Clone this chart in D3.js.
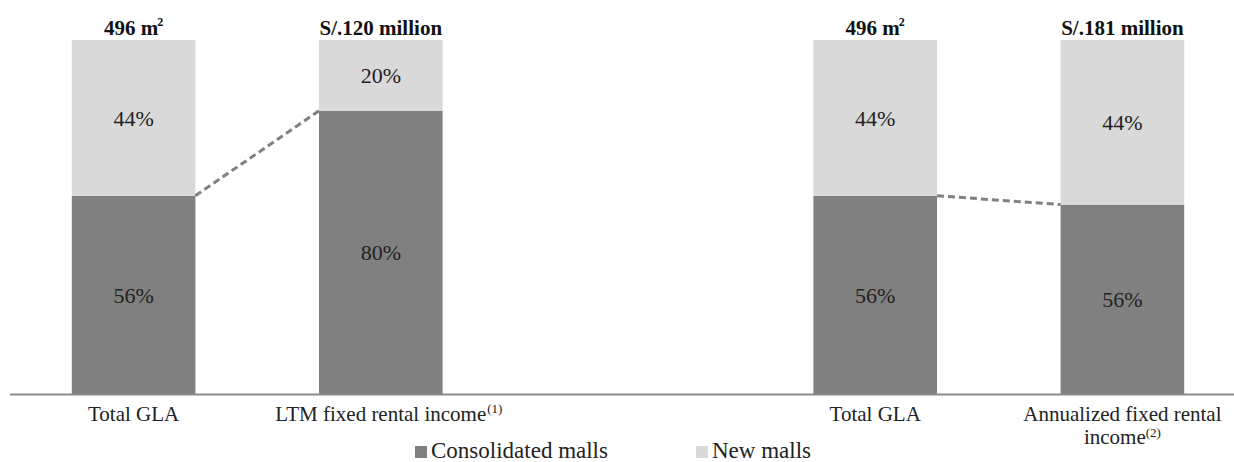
<!DOCTYPE html>
<html>
<head>
<meta charset="utf-8">
<script src="https://cdn.jsdelivr.net/npm/d3@7"></script>
<style>
  html, body { margin: 0; padding: 0; background: #fff; }
  svg, svg text { font-family: "Liberation Serif", "Times New Roman", serif; }
  svg { display: block; }
</style>
</head>
<body>
<svg id="chart" width="1234" height="462"></svg>
<script>
// ---- data ----
const slots = ["gla1", "ltm", "gap", "gla2", "annual"];
const barKeys = ["gla1", "ltm", "gla2", "annual"];
const categoryLines = [["Total GLA"], ["LTM fixed rental income"], ["Total GLA"], ["Annualized fixed rental", "income"]];
const categorySup = ["", "(1)", "", "(2)"];
const titles = ["496 m", "S/.120 million", "496 m", "S/.181 million"];
const titleSup = ["2", "", "2", ""];
const consolidated = [56, 80, 56, 53.5];
const newMalls = [44, 20, 44, 46.5];
const consolidatedLabels = ["56%", "80%", "56%", "56%"];
const newLabels = ["44%", "20%", "44%", "44%"];
const seriesNames = ["Consolidated malls", "New malls"];
const bridges = [[0, 1], [2, 3]];

// ---- styles ----
const darkColor = "#808080";
const lightColor = "#d9d9d9";
const textColor = "#222";
const serif = "'Liberation Serif', 'Times New Roman', serif";

const svg = d3.select("#chart").attr("font-family", serif);
const x = d3.scaleBand().domain(slots).range([10, 1246]).paddingInner(0.5).paddingOuter(0.25);
const y = d3.scaleLinear().domain([0, 100]).range([394, 40]);

const bars = barKeys.map((k, i) => ({
  key: k, i,
  c: consolidated[i], n: newMalls[i],
  cl: consolidatedLabels[i], nl: newLabels[i]
}));

// stacked bars
const g = svg.append("g");
g.selectAll("rect.cons").data(bars).join("rect")
  .attr("x", d => x(d.key)).attr("width", x.bandwidth())
  .attr("y", d => y(d.c)).attr("height", d => y(0) - y(d.c))
  .attr("fill", darkColor);
g.selectAll("rect.new").data(bars).join("rect")
  .attr("x", d => x(d.key)).attr("width", x.bandwidth())
  .attr("y", d => y(d.c + d.n)).attr("height", d => y(d.c) - y(d.c + d.n))
  .attr("fill", lightColor);

// segment labels
g.selectAll("text.cl").data(bars).join("text")
  .attr("x", d => x(d.key) + x.bandwidth() / 2)
  .attr("y", d => (y(0) + y(d.c)) / 2).attr("dy", "0.35em")
  .attr("text-anchor", "middle").attr("font-size", 22).attr("font-family", serif).attr("fill", textColor)
  .text(d => d.cl);
g.selectAll("text.nl").data(bars).join("text")
  .attr("x", d => x(d.key) + x.bandwidth() / 2)
  .attr("y", d => (y(d.c) + y(d.c + d.n)) / 2).attr("dy", "0.35em")
  .attr("text-anchor", "middle").attr("font-size", 22).attr("font-family", serif).attr("fill", textColor)
  .text(d => d.nl);

// titles
bars.forEach((d, i) => {
  const t = svg.append("text")
    .attr("x", x(d.key) + x.bandwidth() / 2).attr("y", 35)
    .attr("text-anchor", "middle").attr("font-size", 21).attr("font-weight", "bold")
    .attr("font-family", serif).attr("fill", "#111")
    .text(titles[i]);
  if (titleSup[i]) {
    t.append("tspan").attr("font-size", 12).attr("dx", -1).attr("dy", -9).text(titleSup[i]);
  }
});

// dashed bridges
bridges.forEach(([a, b]) => {
  svg.append("line")
    .attr("x1", x(barKeys[a]) + x.bandwidth()).attr("y1", y(consolidated[a]))
    .attr("x2", x(barKeys[b])).attr("y2", y(consolidated[b]))
    .attr("stroke", darkColor).attr("stroke-width", 3).attr("stroke-dasharray", "7,4");
});

// axis line
svg.append("line").attr("x1", 10).attr("x2", 1234).attr("y1", y(0) + 0.5).attr("y2", y(0) + 0.5)
  .attr("stroke", "#8a8a8a").attr("stroke-width", 2);

// category labels
bars.forEach((d, i) => {
  const cx = x(d.key) + x.bandwidth() / 2;
  const lines = categoryLines[i];
  lines.forEach((ln, j) => {
    const t = svg.append("text").attr("x", cx).attr("y", 421 + j * 23)
      .attr("text-anchor", "middle").attr("font-size", 21).attr("font-family", serif)
      .attr("fill", textColor).text(ln);
    if (j === lines.length - 1 && categorySup[i]) {
      if (lines.length === 1) {
        const w = t.node().getComputedTextLength();
        svg.append("text").attr("x", cx + w / 2 + 1).attr("y", 421 - 8)
          .attr("font-size", 13).attr("font-family", serif).attr("fill", textColor).text(categorySup[i]);
      } else {
        t.append("tspan").attr("font-size", 13).attr("dy", -7).text(categorySup[i]);
      }
    }
  });
});

// legend
const legend = svg.append("g");
const legendX = [415, 696];
[darkColor, lightColor].forEach((c, i) => {
  legend.append("rect").attr("x", legendX[i]).attr("y", 446).attr("width", 12).attr("height", 12).attr("fill", c);
  legend.append("text").attr("x", legendX[i] + 16).attr("y", 458)
    .attr("font-size", 23).attr("font-family", serif).attr("fill", textColor).text(seriesNames[i]);
});
</script>
</body>
</html>
